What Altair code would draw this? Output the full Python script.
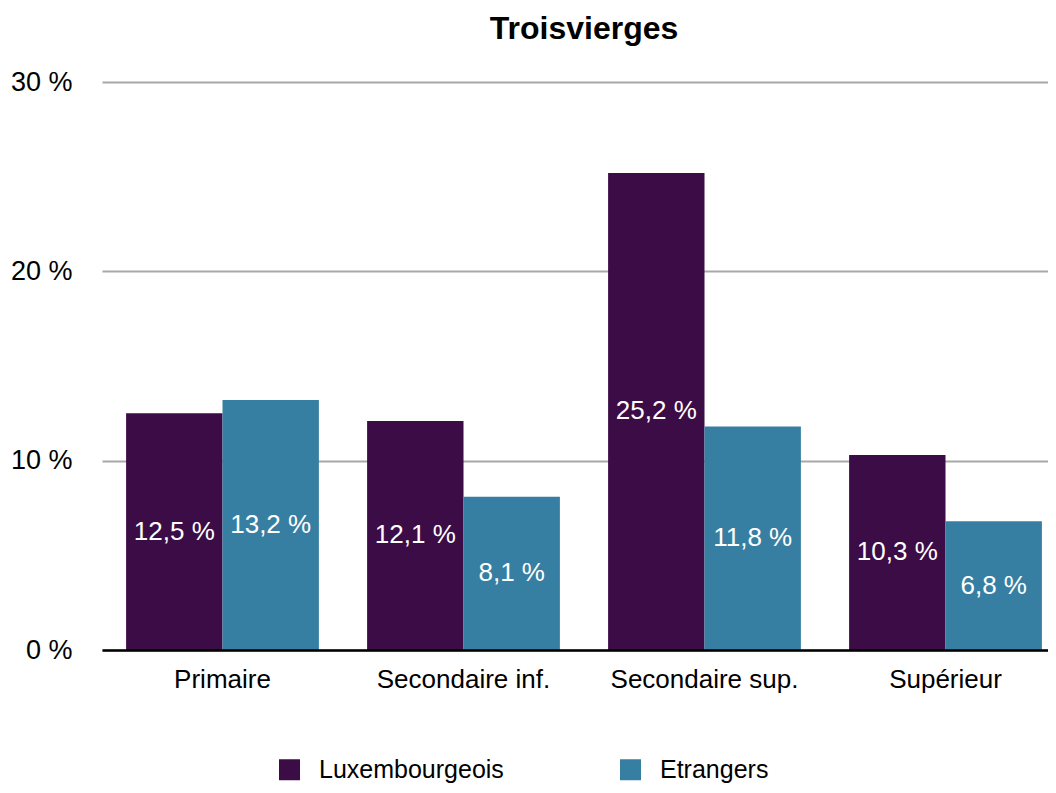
import altair as alt
import pandas as pd

categories = ["Primaire", "Secondaire inf.", "Secondaire sup.", "Supérieur"]
series = ["Luxembourgeois", "Etrangers"]
lux = [12.5, 12.1, 25.2, 10.3]
etr = [13.2, 8.1, 11.8, 6.8]
colors = ["#3c0c46", "#367fa2"]
y_ticks = [0, 10, 20, 30]

rows = []
for c, a, b in zip(categories, lux, etr):
    rows.append({"cat": c, "group": series[0], "value": a})
    rows.append({"cat": c, "group": series[1], "value": b})
df = pd.DataFrame(rows)

FONT = "Liberation Sans"
FS = 26

x_enc = alt.X(
    "cat:N", sort=categories, title=None,
    scale=alt.Scale(range=[0, 964], paddingInner=0.2, paddingOuter=0.1),
    axis=alt.Axis(labelAngle=0, labelFontSize=FS, labelColor="#000", labelFont=FONT,
                  ticks=False, domainColor="#000", domainWidth=2.5, labelPadding=16,
                  labelLimit=0, zindex=1),
)
xoff = alt.XOffset("group:N", sort=series, scale=alt.Scale(paddingInner=0, paddingOuter=0))

base = alt.Chart(df)

bars = base.mark_bar().encode(
    x=x_enc,
    xOffset=xoff,
    y=alt.Y("value:Q", title=None, scale=alt.Scale(domain=[0, 30]),
            axis=alt.Axis(values=y_ticks, labelExpr="datum.value + ' %'",
                          labelFontSize=27, labelColor="#000", labelFont=FONT,
                          ticks=False, domain=False, labelPadding=30,
                          gridColor="#a8a8a8", gridWidth=2)),
    color=alt.Color("group:N", sort=series, title=None,
                    scale=alt.Scale(domain=series, range=colors),
                    legend=alt.Legend(orient="none", legendX=175, legendY=675,
                                      direction="horizontal", symbolType="square",
                                      symbolSize=441, symbolStrokeWidth=0,
                                      labelFontSize=25, labelFont=FONT, labelColor="#000",
                                      labelOffset=17, labelLimit=0, columnPadding=114)),
)

labels = base.transform_calculate(
    mid="datum.value / 2",
    txt="replace(format(datum.value, '.1f'), '.', ',') + ' %'",
).mark_text(color="white", fontSize=FS, font=FONT, baseline="middle").encode(
    x=alt.X("cat:N", sort=categories),
    xOffset=xoff,
    y=alt.Y("mid:Q"),
    text="txt:N",
)

chart = alt.layer(bars, labels).properties(
    width=946, height=568,
    autosize=alt.AutoSizeParams(type="none"),
    padding={"left": 94, "top": 74, "right": 0, "bottom": 135},
    title=alt.Title("Troisvierges", fontSize=32, fontWeight="bold", font=FONT,
                    color="#000", anchor="middle", dx=9, dy=-18),
).configure_view(stroke=None)

chart.save("out.html", embed_options={"renderer": "svg", "actions": False})
